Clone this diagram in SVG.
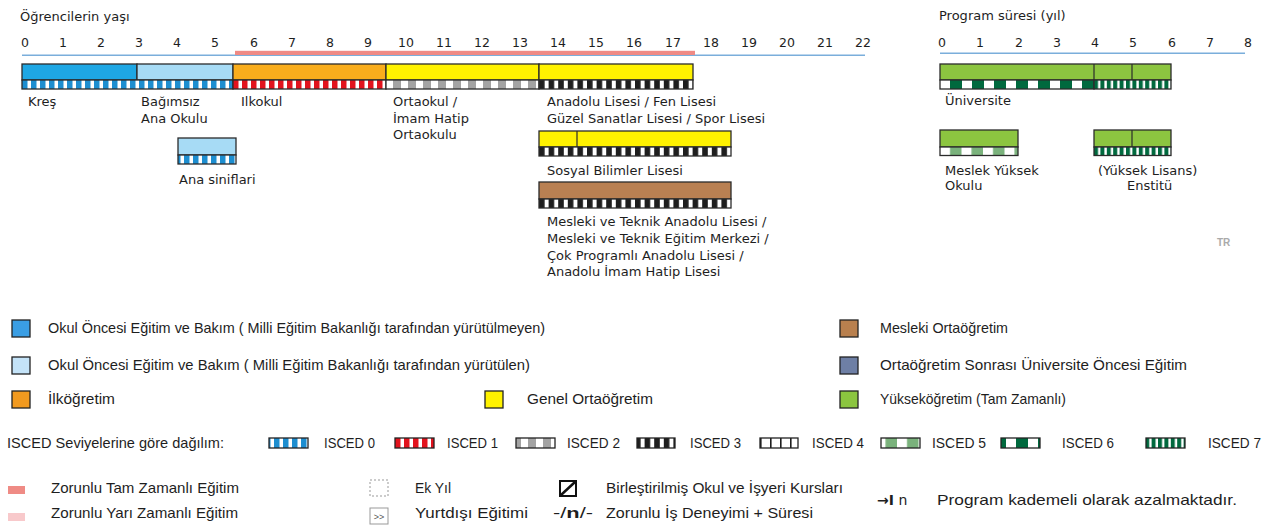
<svg xmlns="http://www.w3.org/2000/svg" width="1274" height="527" viewBox="0 0 1274 527">
<style>
.t{font-family:"DejaVu Sans",Verdana,sans-serif;font-size:13px;fill:#1e1e1e}
.n{font-family:"DejaVu Sans",Verdana,sans-serif;font-size:12.5px;fill:#1e1e1e;text-anchor:middle}
.l{font-family:"Liberation Sans",Arial,sans-serif;font-size:15px;fill:#1e1e1e}
.bx{stroke:#2b2b2b;stroke-width:1.3}
.st{stroke:#2b2b2b;stroke-width:1.3}
.dv{stroke:#2b2b2b;stroke-width:1.2}
.sq{stroke:#222;stroke-width:1.3}
</style>
<defs>
<pattern id="p0" patternUnits="userSpaceOnUse" x="22" width="9" height="20"><rect width="9" height="20" fill="#1d8ed0"/><rect x="5.5" width="3.5" height="20" fill="#fff"/></pattern>
<pattern id="p1" patternUnits="userSpaceOnUse" x="233" width="9" height="20"><rect width="9" height="20" fill="#e2131d"/><rect x="5.5" width="3.5" height="20" fill="#fff"/></pattern>
<pattern id="p2" patternUnits="userSpaceOnUse" x="386" width="15" height="20"><rect width="15" height="20" fill="#fff"/><rect x="7" width="8" height="20" fill="#a3a3a3"/></pattern>
<pattern id="p3" patternUnits="userSpaceOnUse" x="539" width="9.6" height="20"><rect width="9.6" height="20" fill="#1e1e1e"/><rect x="5.6" width="4" height="20" fill="#fff"/></pattern>
<pattern id="p4" patternUnits="userSpaceOnUse" width="10" height="20"><rect width="10" height="20" fill="#fff"/><rect width="1.6" height="20" fill="#1e1e1e"/></pattern>
<pattern id="p5" patternUnits="userSpaceOnUse" x="940" width="21.5" height="20"><rect width="21.5" height="20" fill="#fff"/><rect x="10" width="11.5" height="20" fill="#7ab27c"/></pattern>
<pattern id="p6" patternUnits="userSpaceOnUse" x="940" width="22" height="20"><rect width="22" height="20" fill="#fff"/><rect x="10" width="12" height="20" fill="#00693e"/></pattern>
<pattern id="p7" patternUnits="userSpaceOnUse" x="1094" width="6.4" height="20"><rect width="6.4" height="20" fill="#00693e"/><rect x="4" width="2.4" height="20" fill="#fff"/></pattern>
</defs>

<!-- axes -->
<g id="axis-left">
<text class="t" x="20" y="21">Öğrencilerin yaşı</text>
<g>
<text class="n" x="25" y="47">0</text><text class="n" x="63" y="47">1</text><text class="n" x="101" y="47">2</text><text class="n" x="139" y="47">3</text><text class="n" x="177" y="47">4</text><text class="n" x="215" y="47">5</text><text class="n" x="254" y="47">6</text><text class="n" x="292" y="47">7</text><text class="n" x="330" y="47">8</text><text class="n" x="368" y="47">9</text><text class="n" x="406" y="47">10</text><text class="n" x="444" y="47">11</text><text class="n" x="482" y="47">12</text><text class="n" x="520" y="47">13</text><text class="n" x="558" y="47">14</text><text class="n" x="596" y="47">15</text><text class="n" x="634" y="47">16</text><text class="n" x="673" y="47">17</text><text class="n" x="711" y="47">18</text><text class="n" x="749" y="47">19</text><text class="n" x="787" y="47">20</text><text class="n" x="825" y="47">21</text><text class="n" x="863" y="47">22</text>
</g>
<line x1="22" y1="55.3" x2="865" y2="55.3" stroke="#7aaedb" stroke-width="1.6"/>
<rect x="235" y="50.8" width="460" height="4.2" fill="#ef8a85"/>
</g>
<g id="axis-right">
<text class="t" x="939" y="20">Program süresi (yıl)</text>
<text class="n" x="942" y="47">0</text><text class="n" x="980" y="47">1</text><text class="n" x="1019" y="47">2</text><text class="n" x="1057" y="47">3</text><text class="n" x="1095" y="47">4</text><text class="n" x="1133" y="47">5</text><text class="n" x="1172" y="47">6</text><text class="n" x="1210" y="47">7</text><text class="n" x="1248" y="47">8</text>
<line x1="940" y1="53.3" x2="1245" y2="53.3" stroke="#7aaedb" stroke-width="1.6"/>
</g>

<!-- nodes -->
<g id="kres"><rect class="bx" x="22" y="64" width="115" height="16" fill="#1ea7e4"/><text class="t" x="28" y="106">Kreş</text></g>
<g id="bagimsiz-anaokulu"><rect class="bx" x="137" y="64" width="96" height="16" fill="#a7dbf5"/><text class="t" x="141" y="106">Bağımsız</text><text class="t" x="141" y="122.5">Ana Okulu</text></g>
<g id="ilkokul"><rect class="bx" x="233" y="64" width="153" height="16" fill="#f9ad1c"/><text class="t" x="241" y="106">Ilkokul</text></g>
<g id="ortaokul"><rect class="bx" x="386" y="64" width="153" height="16" fill="#fff200"/><text class="t" x="393" y="106">Ortaokul /</text><text class="t" x="393" y="122.5">İmam Hatip</text><text class="t" x="393" y="139">Ortaokulu</text></g>
<g id="anadolu-lisesi"><rect class="bx" x="539" y="64" width="154" height="16" fill="#fff200"/><text class="t" x="547" y="106">Anadolu Lisesi / Fen Lisesi</text><text class="t" x="547" y="122.5">Güzel Sanatlar Lisesi / Spor Lisesi</text></g>
<g id="ana-siniflari"><rect class="bx" x="178" y="138" width="58" height="17" fill="#a7dbf5"/><text class="t" x="179" y="184">Ana siniflari</text></g>
<g id="sosyal-bilimler"><rect class="bx" x="539" y="131" width="192" height="16" fill="#fff200"/><line class="dv" x1="577" y1="131" x2="577" y2="147"/><text class="t" x="547" y="174.5">Sosyal Bilimler Lisesi</text></g>
<g id="mesleki-teknik"><rect class="bx" x="539" y="182" width="192" height="17" fill="#b98052"/><text class="t" x="547" y="226">Mesleki ve Teknik Anadolu Lisesi /</text><text class="t" x="547" y="242.5">Mesleki ve Teknik Eğitim Merkezi /</text><text class="t" x="547" y="259.5">Çok Programlı Anadolu Lisesi /</text><text class="t" x="547" y="276">Anadolu İmam Hatip Lisesi</text></g>
<g id="universite"><rect class="bx" x="940" y="64" width="231" height="16" fill="#8cc540"/><line class="dv" x1="1094" y1="64" x2="1094" y2="89"/><line class="dv" x1="1132" y1="64" x2="1132" y2="80"/><text class="t" x="945" y="104.5">Üniversite</text></g>
<g id="meslek-yuksekokulu"><rect class="bx" x="940" y="130" width="78" height="17" fill="#8cc540"/><text class="t" x="945" y="174.5">Meslek Yüksek</text><text class="t" x="945" y="190">Okulu</text></g>
<g id="enstitu"><rect class="bx" x="1094" y="130" width="77" height="17" fill="#8cc540"/><line class="dv" x1="1132" y1="130" x2="1132" y2="147"/><text class="t" x="1098" y="174.5">(Yüksek Lisans)</text><text class="t" x="1127" y="190">Enstitü</text></g>

<g id="isced-strips">
<rect class="st" x="22" y="80" width="211" height="9" fill="url(#p0)"/>
<rect class="st" x="233" y="80" width="153" height="9" fill="url(#p1)"/>
<rect class="st" x="386" y="80" width="153" height="9" fill="url(#p2)"/>
<rect class="st" x="539" y="80" width="154" height="9" fill="url(#p3)"/>
<rect class="st" x="178" y="155" width="58" height="9" fill="url(#p0)"/>
<rect class="st" x="539" y="147" width="192" height="9" fill="url(#p3)"/>
<rect class="st" x="539" y="199" width="192" height="9" fill="url(#p3)"/>
<rect class="st" x="940" y="80" width="154" height="9" fill="url(#p6)"/>
<rect class="st" x="1094" y="80" width="77" height="9" fill="url(#p7)"/>
<rect class="st" x="940" y="147" width="78" height="8.5" fill="url(#p5)"/>
<rect class="st" x="1094" y="147" width="77" height="8.5" fill="url(#p7)"/>
</g>

<text x="1217" y="246" font-family="Liberation Sans, Arial, sans-serif" font-size="10" font-weight="bold" fill="#aaa">TR</text>

<!-- legend -->
<g id="legend-colors">
<rect class="sq" x="12" y="320" width="18" height="17" fill="#3a9ee4"/><text class="l" x="48" y="333" textLength="497" lengthAdjust="spacingAndGlyphs">Okul Öncesi Eğitim ve Bakım ( Milli Eğitim Bakanlığı tarafından yürütülmeyen)</text>
<rect class="sq" x="12" y="357" width="18" height="17" fill="#c4e3f8"/><text class="l" x="48" y="370" textLength="482" lengthAdjust="spacingAndGlyphs">Okul Öncesi Eğitim ve Bakım ( Milli Eğitim Bakanlığı tarafından yürütülen)</text>
<rect class="sq" x="12" y="391" width="18" height="17" fill="#f29a1f"/><text class="l" x="48" y="404" textLength="67" lengthAdjust="spacingAndGlyphs">İlköğretim</text>
<rect class="sq" x="485" y="391" width="18" height="17" fill="#fff200"/><text class="l" x="527" y="404" textLength="126" lengthAdjust="spacingAndGlyphs">Genel Ortaöğretim</text>
<rect class="sq" x="840" y="320" width="18" height="17" fill="#b9804e"/><text class="l" x="880" y="333" textLength="128" lengthAdjust="spacingAndGlyphs">Mesleki Ortaöğretim</text>
<rect class="sq" x="840" y="357" width="18" height="17" fill="#6e7fa5"/><text class="l" x="880" y="370" textLength="307" lengthAdjust="spacingAndGlyphs">Ortaöğretim Sonrası Üniversite Öncesi Eğitim</text>
<rect class="sq" x="840" y="391" width="18" height="17" fill="#8bc53f"/><text class="l" x="880" y="404" textLength="186" lengthAdjust="spacingAndGlyphs">Yükseköğretim (Tam Zamanlı)</text>
</g>

<g id="legend-isced">
<text class="l" x="7" y="448" textLength="217" lengthAdjust="spacingAndGlyphs">ISCED Seviyelerine göre dağılım:</text>
<rect class="sq" x="269" y="438" width="39" height="10" fill="url(#p0)"/><text class="l" x="324" y="448" textLength="51" lengthAdjust="spacingAndGlyphs">ISCED 0</text>
<rect class="sq" x="395" y="438" width="39" height="10" fill="url(#p1)"/><text class="l" x="447" y="448" textLength="51" lengthAdjust="spacingAndGlyphs">ISCED 1</text>
<rect class="sq" x="516" y="438" width="39" height="10" fill="url(#p2)"/><text class="l" x="567" y="448" textLength="53" lengthAdjust="spacingAndGlyphs">ISCED 2</text>
<rect class="sq" x="637" y="438" width="38" height="10" fill="url(#p3)"/><text class="l" x="690" y="448" textLength="51" lengthAdjust="spacingAndGlyphs">ISCED 3</text>
<rect class="sq" x="760" y="438" width="38" height="10" fill="url(#p4)"/><text class="l" x="812" y="448" textLength="52" lengthAdjust="spacingAndGlyphs">ISCED 4</text>
<rect class="sq" x="881" y="438" width="39" height="10" fill="url(#p5)"/><text class="l" x="932" y="448" textLength="54" lengthAdjust="spacingAndGlyphs">ISCED 5</text>
<rect class="sq" x="1001" y="438" width="39" height="10" fill="url(#p6)"/><text class="l" x="1062" y="448" textLength="52" lengthAdjust="spacingAndGlyphs">ISCED 6</text>
<rect class="sq" x="1146" y="438" width="39" height="10" fill="url(#p7)"/><text class="l" x="1208" y="448" textLength="53" lengthAdjust="spacingAndGlyphs">ISCED 7</text>
</g>

<g id="legend-other">
<rect x="8" y="486" width="17" height="8" fill="#ef8b85"/><text class="l" x="51" y="493" textLength="188" lengthAdjust="spacingAndGlyphs">Zorunlu Tam Zamanlı Eğitim</text>
<rect x="8" y="513" width="17" height="8" fill="#f8c9cb"/><text class="l" x="51" y="518" textLength="187" lengthAdjust="spacingAndGlyphs">Zorunlu Yarı Zamanlı Eğitim</text>
<rect x="370" y="480" width="18" height="16" fill="none" stroke="#999" stroke-width="1" stroke-dasharray="2,2"/><text class="l" x="415" y="493" textLength="36" lengthAdjust="spacingAndGlyphs">Ek Yıl</text>
<rect x="370" y="508" width="18" height="16" fill="none" stroke="#999" stroke-width="1"/><text x="379" y="520" text-anchor="middle" font-family="Liberation Sans, Arial, sans-serif" font-size="9" fill="#555">&gt;&gt;</text><text class="l" x="415" y="518" textLength="113" lengthAdjust="spacingAndGlyphs">Yurtdışı Eğitimi</text>
<rect x="560" y="481" width="16" height="15" fill="#fff" stroke="#111" stroke-width="2"/><line x1="561" y1="495" x2="575" y2="482" stroke="#111" stroke-width="2.5"/>
<text class="l" x="606" y="493" textLength="237" lengthAdjust="spacingAndGlyphs">Birleştirilmiş Okul ve İşyeri Kursları</text>
<text class="l" x="553" y="518" textLength="40" lengthAdjust="spacingAndGlyphs">-/<tspan font-weight="bold">n</tspan>/-</text>
<text class="l" x="606" y="518" textLength="207" lengthAdjust="spacingAndGlyphs">Zorunlu İş Deneyimi + Süresi</text>
<text x="877" y="505" font-family="DejaVu Sans, sans-serif" font-size="14" fill="#1e1e1e"><tspan font-weight="bold">→I</tspan> n</text>
<text class="l" x="937" y="505" textLength="300" lengthAdjust="spacingAndGlyphs">Program  kademeli olarak azalmaktadır.</text>
</g>
</svg>
